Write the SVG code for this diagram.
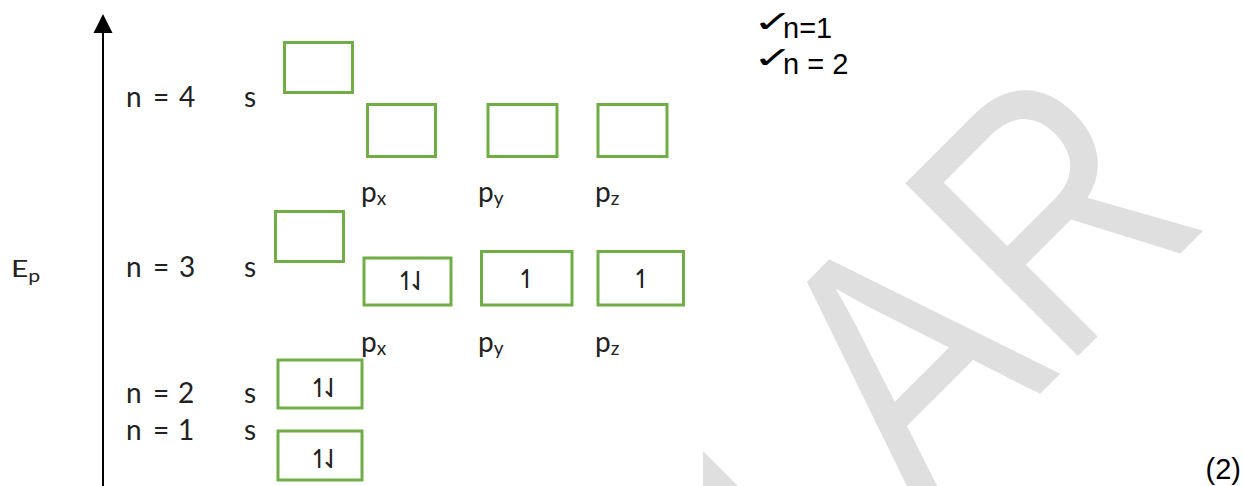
<svg xmlns="http://www.w3.org/2000/svg" width="1243" height="486" viewBox="0 0 1243 486">
<style>
.lbl{font-family:Lato,"Open Sans",sans-serif;font-size:28px;fill:#222}
.sub{font-size:19px}
.box{fill:none;stroke:#70ad47;stroke-width:3}
.spin{font-family:"DejaVu Sans",sans-serif;font-size:26px;fill:#222;text-anchor:middle;letter-spacing:-10px}
.one{font-family:"DejaVu Sans",sans-serif;font-size:26px;fill:#222;text-anchor:middle}
.ans{font-family:"Liberation Sans",Arial,sans-serif;font-size:29px;fill:#000}
.chk{font-family:"DejaVu Sans",sans-serif;font-size:30px;fill:#000}
.wm{font-family:"Liberation Sans",Arial,sans-serif;font-size:355px;fill:#dfdfdf}
</style>
<rect width="1243" height="486" fill="#fff"/>
<g id="watermark">
<text class="wm" transform="translate(920,514) rotate(-45) scale(0.84,1)">AR</text>
<polygon points="703,451 703,486 738,486" fill="#dfdfdf"/>
</g>
<g id="connectors">
<line x1="103" y1="30" x2="103" y2="486" stroke="#000" stroke-width="2"/>
<polygon points="103,14 93.5,33 112.5,33" fill="#000"/>
</g>
<g id="axis-label"><text class="lbl" transform="translate(11,277) scale(1.25,1)" style="font-size:24px">E<tspan style="font-size:17px" dy="5">p</tspan></text></g>
<g id="n4">
<text class="lbl" y="107"><tspan x="126">n</tspan><tspan x="153">=</tspan><tspan x="179">4</tspan><tspan x="244">s</tspan></text>
<rect class="box" x="284.5" y="42.5" width="68" height="50"/>
<rect class="box" x="367.5" y="104.5" width="68" height="52"/>
<rect class="box" x="488" y="104.5" width="69" height="52"/>
<rect class="box" x="598" y="104.5" width="69" height="52"/>
<text class="lbl" y="202"><tspan x="361">p</tspan><tspan class="sub" dy="3">x</tspan><tspan x="478" dy="-3">p</tspan><tspan class="sub" dy="3">y</tspan><tspan x="595" dy="-3">p</tspan><tspan class="sub" dy="3">z</tspan></text>
</g>
<g id="n3">
<text class="lbl" y="277"><tspan x="126">n</tspan><tspan x="153">=</tspan><tspan x="179">3</tspan><tspan x="244">s</tspan></text>
<rect class="box" x="275.5" y="211.5" width="68" height="50"/>
<rect class="box" x="364" y="258" width="87" height="47"/>
<rect class="box" x="481.5" y="251.5" width="90.5" height="53.5"/>
<rect class="box" x="598" y="251.5" width="85.5" height="53.5"/>
<text class="spin" x="407" y="290">↿⇃</text>
<text class="one" x="527" y="288">↿</text>
<text class="one" x="642" y="288">↿</text>
<text class="lbl" y="352"><tspan x="361">p</tspan><tspan class="sub" dy="3">x</tspan><tspan x="478" dy="-3">p</tspan><tspan class="sub" dy="3">y</tspan><tspan x="595" dy="-3">p</tspan><tspan class="sub" dy="3">z</tspan></text>
</g>
<g id="n2">
<text class="lbl" y="403"><tspan x="126">n</tspan><tspan x="153">=</tspan><tspan x="178">2</tspan><tspan x="244">s</tspan></text>
<rect class="box" x="278" y="360" width="84" height="48"/>
<text class="spin" x="320" y="397">↿⇃</text>
</g>
<g id="n1">
<text class="lbl" y="440"><tspan x="126">n</tspan><tspan x="153">=</tspan><tspan x="178">1</tspan><tspan x="244">s</tspan></text>
<rect class="box" x="278" y="431" width="84" height="49"/>
<text class="spin" x="320" y="468">↿⇃</text>
</g>
<g id="answers">
<text class="chk" transform="translate(753,32) scale(1.6,1)">✓</text>
<text class="ans" x="783" y="38">n=1</text>
<text class="chk" transform="translate(753,68) scale(1.6,1)">✓</text>
<text class="ans" x="783" y="74">n = 2</text>
<text class="ans" x="1241" y="479" text-anchor="end">(2)</text>
</g>
</svg>
